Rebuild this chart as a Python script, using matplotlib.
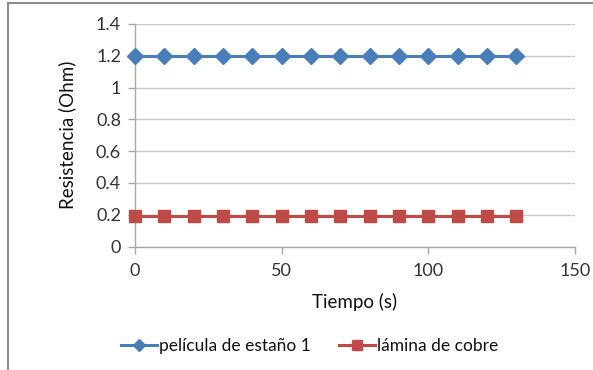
import matplotlib
matplotlib.use("Agg")
import matplotlib.pyplot as plt
from matplotlib.lines import Line2D

tiempo = [0, 10, 20, 30, 40, 50, 60, 70, 80, 90, 100, 110, 120, 130]
estano = [1.2] * 14
cobre = [0.19] * 14
series_names = ["película de estaño 1", "lámina de cobre"]
x_ticks = [0, 50, 100, 150]
y_ticks = [0, 0.2, 0.4, 0.6, 0.8, 1, 1.2, 1.4]
y_tick_labels = ["0", "0.2", "0.4", "0.6", "0.8", "1", "1.2", "1.4"]

plt.rcParams["font.family"] = ["Lato", "DejaVu Sans"]

fig = plt.figure(figsize=(5.93, 3.70), dpi=100)
ax = fig.add_axes([135 / 593, 1 - 246.5 / 370, 440 / 593, 222.5 / 370])

blue = "#4A7EBB"
red = "#BE4B48"
ax.plot(tiempo, estano, color=blue, lw=2.2, marker="D", ms=8,
        mfc=blue, mec=blue, label=series_names[0], clip_on=False, zorder=3)
ax.plot(tiempo, cobre, color=red, lw=2.2, marker="s", ms=8.5,
        mfc=red, mec=red, label=series_names[1], clip_on=False, zorder=3)

ax.set_xlim(0, 150)
ax.set_ylim(0, 1.4)
ax.set_xticks(x_ticks)
ax.set_yticks(y_ticks)
ax.set_yticklabels(y_tick_labels)
ax.grid(axis="y", color="#C8C8C8", lw=1)
ax.set_axisbelow(True)
for s in ["top", "right"]:
    ax.spines[s].set_visible(False)
for s in ["left", "bottom"]:
    ax.spines[s].set_color("#A6A6A6")
    ax.spines[s].set_linewidth(1)
ax.tick_params(axis="both", colors="#A6A6A6", labelcolor="#333333",
               labelsize=13, length=5, width=1)
ax.tick_params(axis="x", pad=7)
ax.tick_params(axis="y", pad=5)

ax.set_xlabel("Tiempo (s)", fontsize=13.5, color="#111111", labelpad=10)
ax.set_ylabel("Resistencia (Ohm)", fontsize=13.5, color="#111111", labelpad=14)

handles = [
    Line2D([], [], color=blue, lw=2.2, marker="D", ms=6, mfc=blue, mec=blue),
    Line2D([], [], color=red, lw=2.2, marker="s", ms=7, mfc=red, mec=red),
]
fig.legend(handles, series_names, loc="center", bbox_to_anchor=(0.522, 1 - 346 / 370),
           ncol=2, frameon=False, fontsize=12.5, handlelength=2.1,
           handletextpad=0.1, columnspacing=1.6, labelcolor="#111111")

# outer frame
fig.add_artist(Line2D([8 / 593, 1], [1 - 3 / 370, 1 - 3 / 370], color="#8C8C8C", lw=1.5,
                      transform=fig.transFigure))
fig.add_artist(Line2D([8 / 593, 8 / 593], [0, 1 - 3 / 370], color="#8C8C8C", lw=1.5,
                      transform=fig.transFigure))

fig.savefig("out.png", dpi=100)
